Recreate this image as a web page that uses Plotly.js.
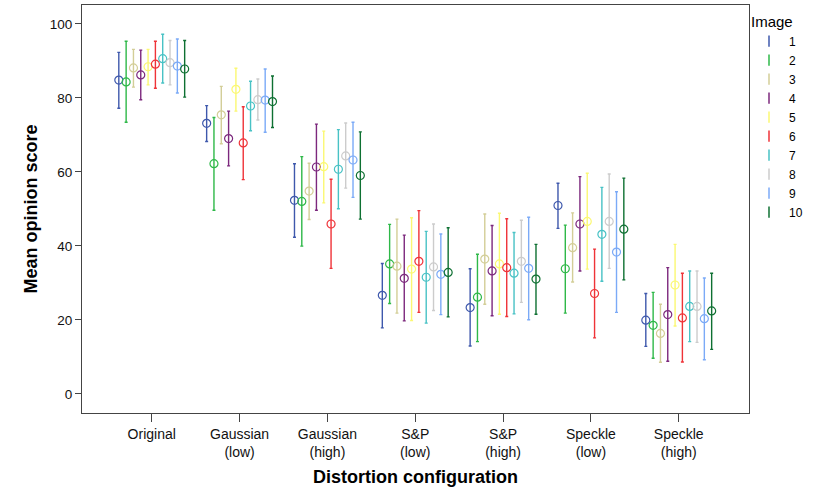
<!DOCTYPE html>
<html>
<head>
<meta charset="utf-8">
<script src="https://cdn.plot.ly/plotly-3.0.1.min.js"></script>
<style>html,body{margin:0;padding:0;background:#fff;}#chart{width:813px;height:501px;}</style>
</head>
<body>
<div id="chart"></div>
<script>
const categories = ["Original", "Gaussian<br>(low)", "Gaussian<br>(high)", "S&P<br>(low)", "S&P<br>(high)", "Speckle<br>(low)", "Speckle<br>(high)"];
const imageNames = ["1", "2", "3", "4", "5", "6", "7", "8", "9", "10"];
const colors = ["#3E58AC", "#2EB848", "#D3CE97", "#7C287D", "#FBF873", "#EF3338", "#48C2C5", "#CCCCCC", "#7BAAF7", "#0E7032"];

// Mean opinion score per image (rows) for each distortion configuration (columns)
const means = [
  [84.8, 73.1, 52.3, 26.6, 23.3, 50.9, 19.9],
  [84.3, 62.2, 52.0, 35.1, 26.1, 33.8, 18.5],
  [88.1, 75.4, 54.8, 34.5, 36.4, 39.5, 16.3],
  [86.2, 69.0, 61.3, 31.2, 33.2, 45.9, 21.4],
  [88.4, 82.3, 61.4, 33.7, 35.1, 46.6, 29.4],
  [89.1, 67.8, 45.9, 35.8, 34.1, 27.1, 20.5],
  [90.6, 77.8, 60.7, 31.5, 32.6, 43.1, 23.6],
  [89.5, 79.5, 64.3, 34.3, 35.8, 46.6, 23.6],
  [88.6, 79.4, 63.2, 32.3, 33.9, 38.3, 20.3],
  [87.8, 79.0, 59.0, 32.8, 31.0, 44.5, 22.4]
];
// Lower bound of the error bar
const lower = [
  [77.2, 68.2, 42.3, 17.8, 12.9, 44.7, 12.8],
  [73.4, 49.6, 39.9, 24.4, 14.1, 21.8, 9.6],
  [82.9, 67.6, 47.1, 21.8, 24.2, 30.2, 8.5],
  [79.5, 61.6, 49.6, 19.7, 21.1, 33.2, 8.8],
  [83.5, 76.4, 51.6, 19.8, 21.5, 33.7, 18.3],
  [82.6, 57.9, 33.9, 22.0, 20.9, 15.1, 8.6],
  [84.0, 71.1, 50.0, 19.1, 21.6, 30.4, 14.1],
  [83.5, 74.0, 55.6, 22.5, 24.7, 33.9, 13.9],
  [81.3, 70.7, 53.1, 21.4, 20.0, 22.0, 9.2],
  [80.2, 72.0, 47.2, 20.8, 21.5, 30.8, 12.0]
];
// Upper bound of the error bar
const upper = [
  [92.3, 77.9, 62.2, 35.2, 33.8, 56.9, 27.1],
  [95.3, 74.7, 64.1, 45.8, 37.7, 45.6, 27.4],
  [93.1, 83.1, 62.3, 47.2, 48.6, 48.9, 24.2],
  [92.9, 76.4, 72.9, 42.9, 45.5, 58.7, 34.1],
  [93.1, 88.0, 71.0, 47.6, 48.8, 59.6, 40.4],
  [95.3, 77.6, 58.0, 49.5, 47.3, 39.1, 32.6],
  [97.2, 84.5, 71.4, 43.9, 43.6, 55.8, 33.2],
  [95.5, 85.1, 73.2, 45.9, 46.9, 59.4, 33.2],
  [95.9, 87.8, 73.4, 43.2, 47.7, 54.6, 31.3],
  [95.5, 85.9, 70.8, 44.9, 40.4, 58.3, 32.6]
];

const FONT = "Arial, 'Liberation Sans', sans-serif";
const traces = [];
imageNames.forEach((name, i) => {
  traces.push({
    type: "scatter",
    mode: "markers",
    name: name,
    x: categories,
    y: means[i],
    showlegend: false,
    marker: {symbol: "circle-open", size: 8, color: colors[i], line: {width: 1.2, color: colors[i]}},
    error_y: {
      type: "data", symmetric: false,
      array: upper[i].map((u, k) => u - means[i][k]),
      arrayminus: means[i].map((m, k) => m - lower[i][k]),
      color: colors[i], thickness: 1.4, width: 1.5
    },
    hoverinfo: "x+y+name"
  });
});
// legend entries (error-bar style icons)
imageNames.forEach((name, i) => {
  traces.push({
    type: "scatter", mode: "markers", name: name,
    x: [null], y: [null], xaxis: "x2",
    marker: {symbol: "line-ns-open", size: 8, color: colors[i], line: {width: 1.5, color: colors[i]}},
    hoverinfo: "skip"
  });
});

const layout = {
  width: 813, height: 501,
  margin: {l: 82, r: 55, t: 5, b: 88},
  paper_bgcolor: "#fff", plot_bgcolor: "#fff",
  font: {family: FONT, color: "#000", size: 13},
  scattermode: "group",
  scattergap: 0.167,
  showlegend: true,
  legend: {
    x: 1.0, xanchor: "left", y: 0.995, yanchor: "top",
    title: {text: "Image", font: {size: 15, family: FONT}},
    font: {size: 12, family: FONT},
    tracegroupgap: 0, itemwidth: 30,
    bgcolor: "rgba(0,0,0,0)"
  },
  xaxis: {
    type: "category",
    categoryorder: "array", categoryarray: categories,
    range: [-0.794, 6.80],
    showline: true, linecolor: "#444", linewidth: 1, mirror: true,
    ticks: "outside", ticklen: 8, tickcolor: "#444",
    showgrid: false, zeroline: false,
    tickfont: {size: 14, family: FONT, color: "#111"},
    title: {text: "Distortion configuration", font: {size: 18, family: FONT, weight: "bold", color: "#000"}, standoff: 11}
  },
  xaxis2: {overlaying: "x", visible: false, range: [0, 1]},
  yaxis: {
    range: [-5.2, 105.1],
    tickvals: [0, 20, 40, 60, 80, 100],
    showline: true, linecolor: "#444", linewidth: 1, mirror: true,
    ticks: "outside", ticklen: 6, tickcolor: "#444",
    showgrid: false, zeroline: false,
    tickfont: {size: 13.5, family: FONT, color: "#111"},
    title: {text: "Mean opinion score", font: {size: 18, family: FONT, weight: "bold", color: "#000"}, standoff: 7}
  }
};

Plotly.newPlot("chart", traces, layout, {displayModeBar: false, staticPlot: true});
</script>
</body>
</html>
